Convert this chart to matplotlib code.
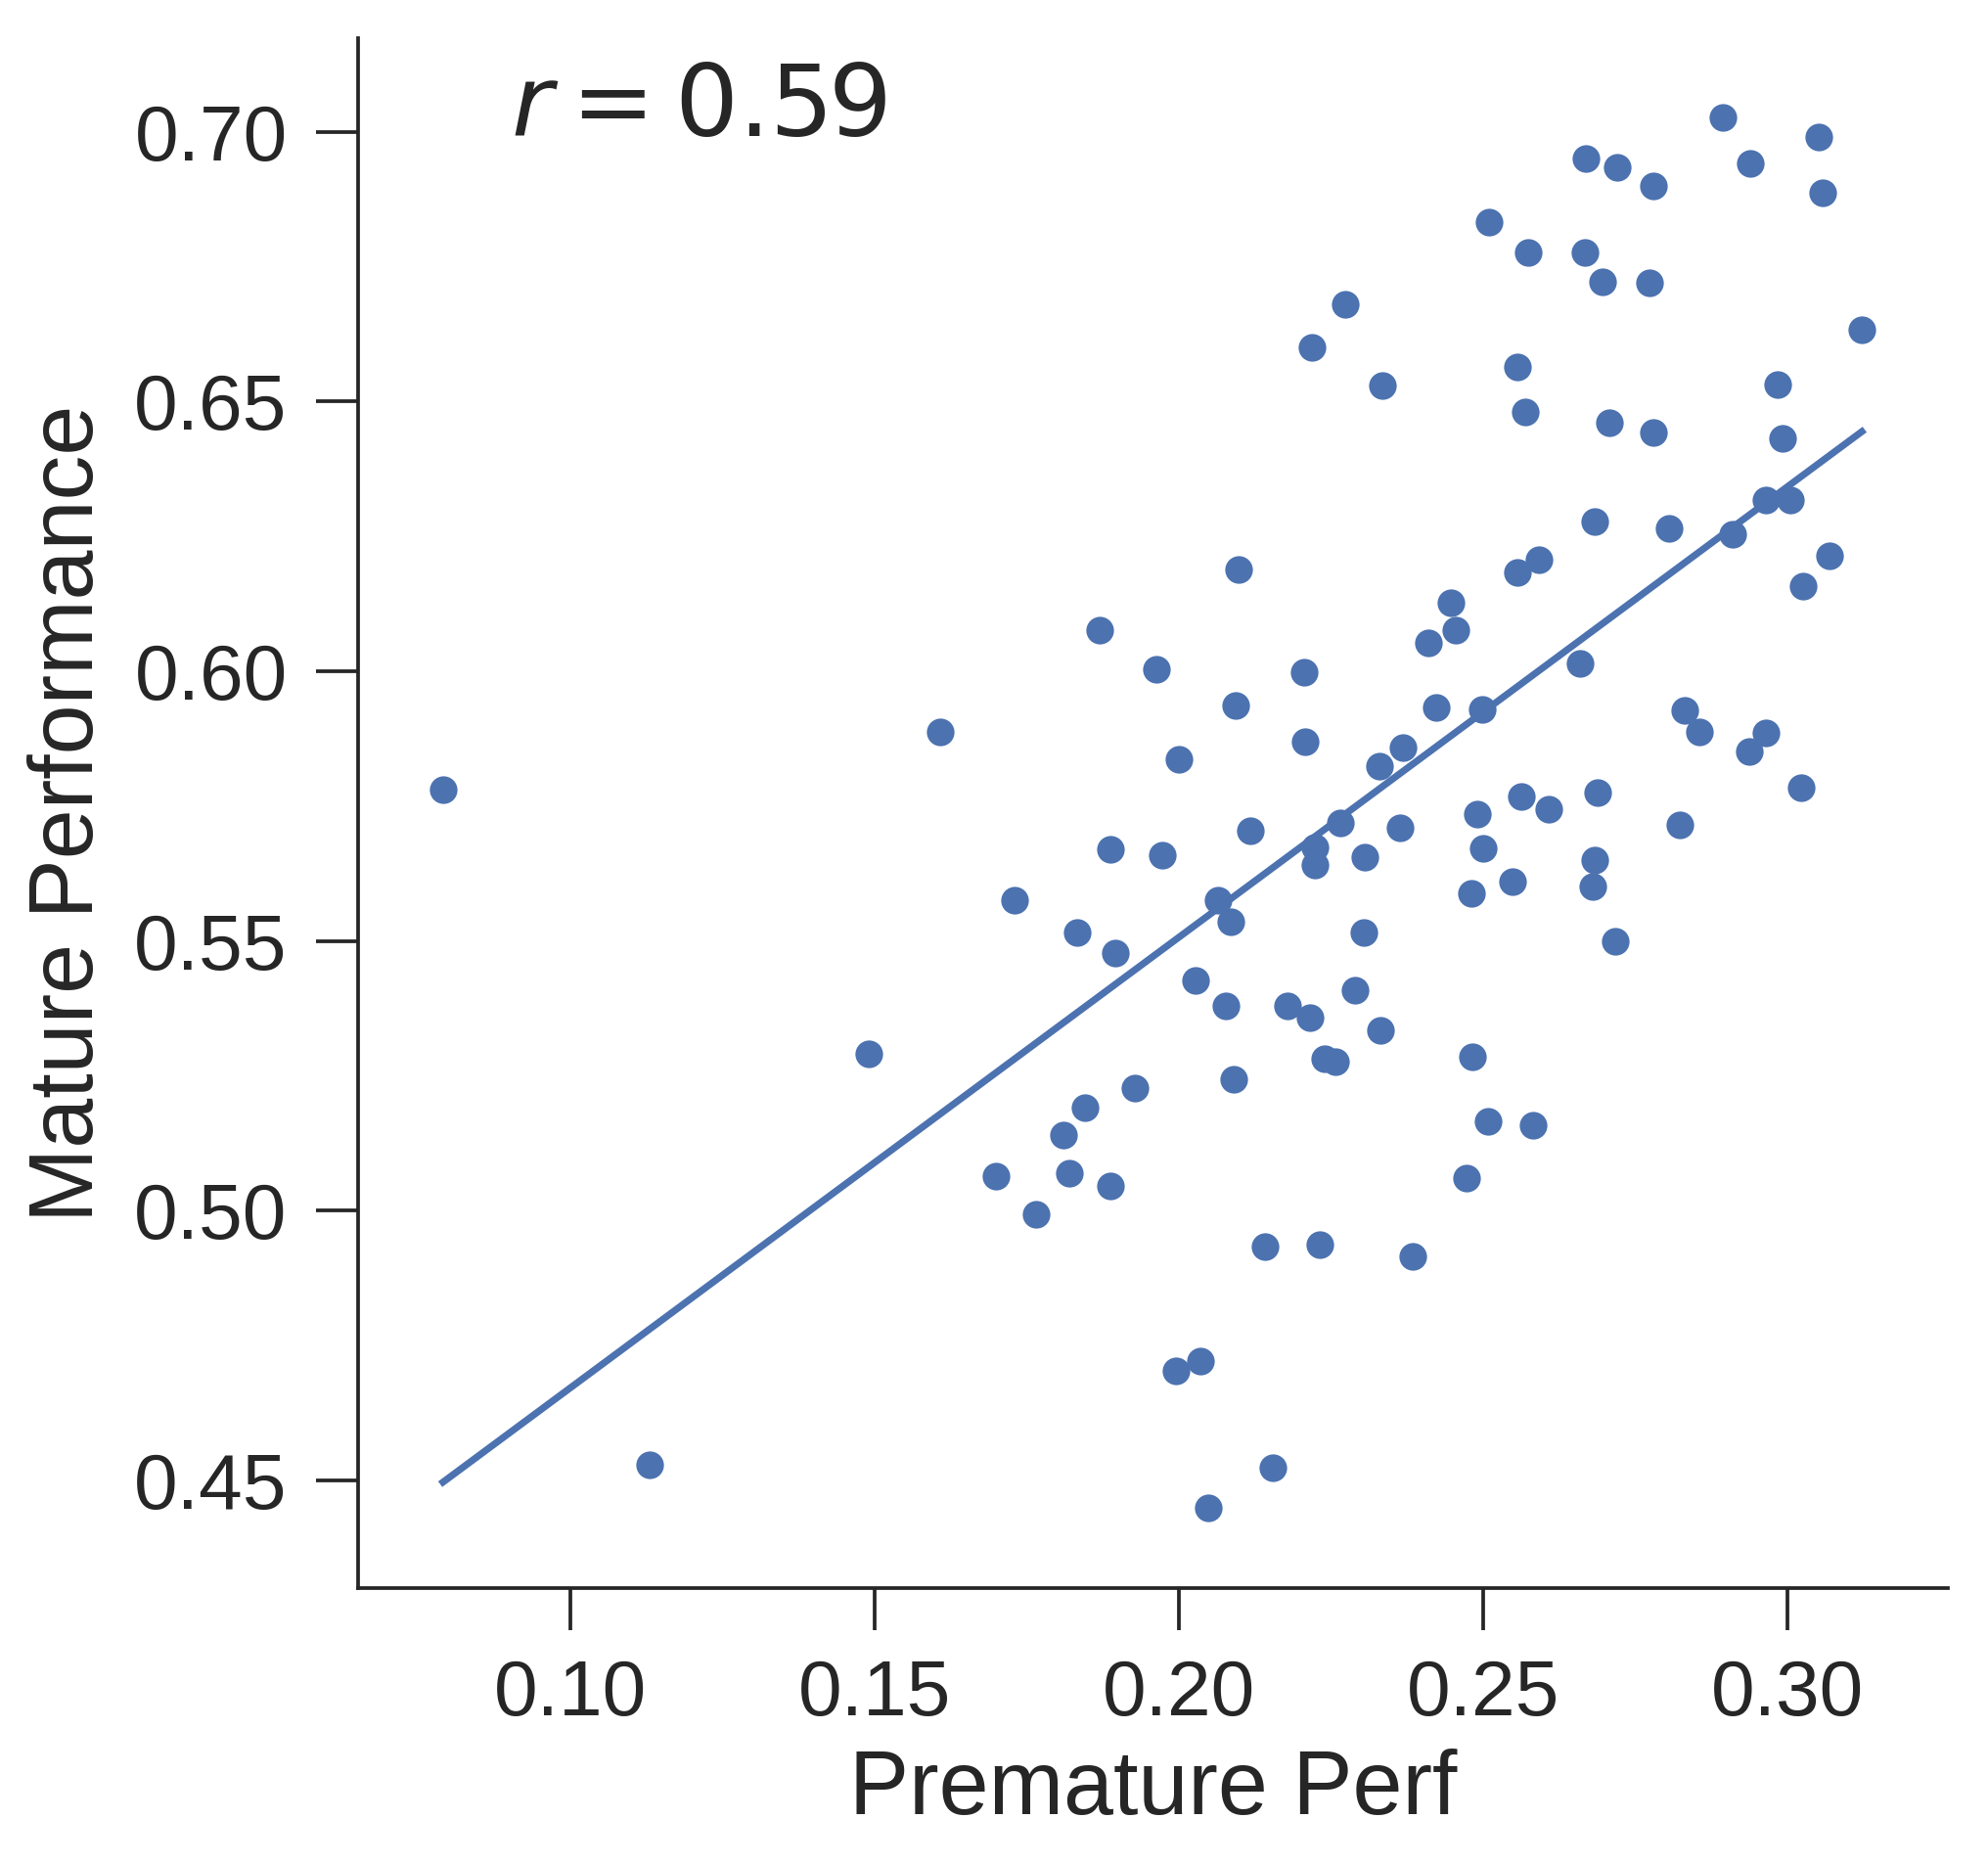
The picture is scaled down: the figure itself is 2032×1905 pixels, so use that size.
import numpy as np
import matplotlib
matplotlib.use("Agg")
import matplotlib.pyplot as plt

premature_perf = [0.079, 0.1129, 0.149, 0.1608, 0.170, 0.1729, 0.1765, 0.181, 0.182, 0.1833,
                  0.1846, 0.1869, 0.1888, 0.1888, 0.1896, 0.1927, 0.1963, 0.1973, 0.1996, 0.200,
                  0.2027, 0.2035, 0.2048, 0.2065, 0.2077, 0.2085, 0.2090, 0.2094, 0.2098, 0.2117,
                  0.2142, 0.2154, 0.2179, 0.2206, 0.2208, 0.2215, 0.2219, 0.2223, 0.2223, 0.2231,
                  0.2240, 0.2258, 0.2265, 0.2273, 0.2290, 0.2304, 0.2306, 0.2329, 0.2331, 0.2335,
                  0.2363, 0.2369, 0.2385, 0.2410, 0.2423, 0.2448, 0.2456, 0.2473, 0.2481, 0.2483,
                  0.2490, 0.2498, 0.2500, 0.2508, 0.2510, 0.2548, 0.2556, 0.2556, 0.2563, 0.2569,
                  0.2575, 0.2583, 0.2592, 0.2608, 0.2660, 0.2667, 0.2669, 0.2681, 0.2683, 0.2683,
                  0.2688, 0.2696, 0.2708, 0.2717, 0.2721, 0.2773, 0.2781, 0.2781, 0.2806, 0.2823,
                  0.2831, 0.2856, 0.2894, 0.2910, 0.2938, 0.2940, 0.2965, 0.2965, 0.2985, 0.2992,
                  0.3006, 0.3023, 0.3027, 0.3052, 0.3058, 0.3069, 0.3123]
mature_perf = [0.578, 0.4528, 0.529, 0.5888, 0.5064, 0.5575, 0.4994, 0.514, 0.5069, 0.5516,
               0.5191, 0.6076, 0.5669, 0.5046, 0.5478, 0.5227, 0.6003, 0.5659, 0.4702, 0.5836,
               0.5427, 0.4721, 0.4448, 0.5575, 0.5380, 0.5535, 0.5243, 0.5937, 0.6189, 0.5704,
               0.4933, 0.4524, 0.5380, 0.5998, 0.5869, 0.5358, 0.6600, 0.5674, 0.5641, 0.4937,
               0.5281, 0.5276, 0.5718, 0.6680, 0.5408, 0.5516, 0.5655, 0.5824, 0.5335, 0.6530,
               0.5709, 0.5859, 0.4916, 0.6052, 0.5932, 0.6127, 0.6076, 0.5060, 0.5589, 0.5286,
               0.5735, 0.5930, 0.5671, 0.5166, 0.6833, 0.5610, 0.6565, 0.6184, 0.5768, 0.6480,
               0.6777, 0.5158, 0.6207, 0.5744, 0.6015, 0.6777, 0.6951, 0.5601, 0.6278, 0.5650,
               0.5775, 0.6722, 0.6461, 0.5500, 0.6934, 0.6720, 0.6899, 0.6443, 0.6264, 0.5716,
               0.5928, 0.5888, 0.7026, 0.6254, 0.5852, 0.6941, 0.5885, 0.6318, 0.6532, 0.6431,
               0.6318, 0.5784, 0.6158, 0.6991, 0.6887, 0.6214, 0.6633]
x_ticks = [0.10, 0.15, 0.20, 0.25, 0.30]
y_ticks = [0.45, 0.50, 0.55, 0.60, 0.65, 0.70]
r_label = "$r = 0.59$"

plt.rcParams['font.family'] = ['Liberation Sans', 'DejaVu Sans']
plt.rcParams['mathtext.fontset'] = 'dejavusans'

color = '#4C72B0'
text_color = '#262626'

fig = plt.figure(figsize=(2032/300, 1905/300), dpi=300)
ax = fig.add_axes([0.18, 0.148, 0.80, 0.8316])

x = np.array(premature_perf)
y = np.array(mature_perf)
ax.scatter(x, y, s=46, color=color, linewidths=0, zorder=3)
coef = np.polyfit(x, y, 1)
xl = np.array([x.min(), x.max()])
ax.plot(xl, np.polyval(coef, xl), color=color, lw=1.7, zorder=2)

ax.set_xlim(0.065, 0.3265)
ax.set_ylim(0.43, 0.7174)
ax.set_xticks(x_ticks)
ax.set_yticks(y_ticks)
ax.set_xticklabels([f"{t:.2f}" for t in x_ticks])
ax.set_yticklabels([f"{t:.2f}" for t in y_ticks])

for s in ['top', 'right']:
    ax.spines[s].set_visible(False)
for s in ['left', 'bottom']:
    ax.spines[s].set_linewidth(0.9)
    ax.spines[s].set_color(text_color)
ax.tick_params(axis='both', length=10.3, width=0.9, color=text_color,
               labelsize=19.3, labelcolor=text_color, pad=7)

ax.set_xlabel("Premature Perf", fontsize=22, color=text_color, labelpad=4)
ax.set_ylabel("Mature Performance", fontsize=22, color=text_color, labelpad=5.5)

ax.text(0.096, 0.937, r_label, transform=ax.transAxes, fontsize=24.5,
        color=text_color, ha='left', va='baseline')

fig.savefig("out.png", dpi=300)
